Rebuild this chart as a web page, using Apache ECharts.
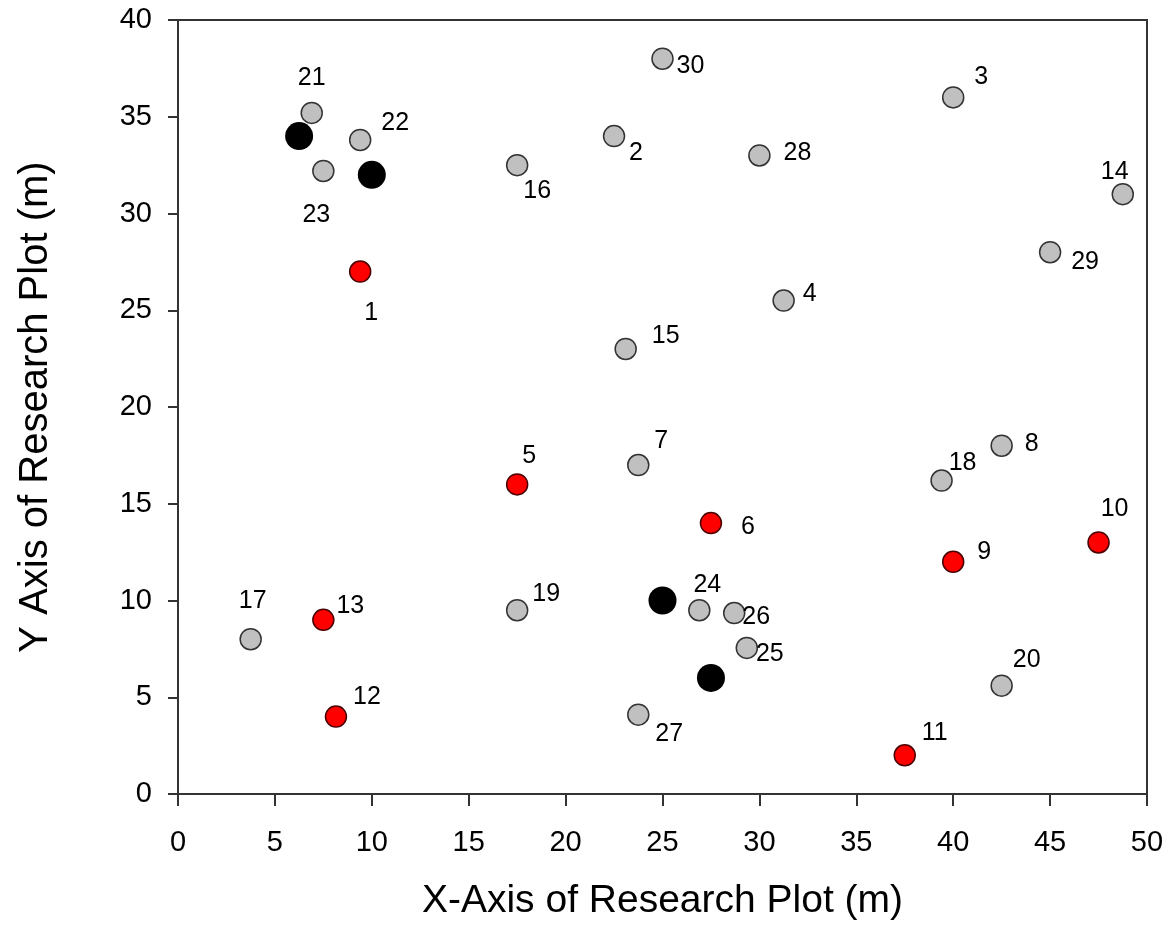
<!DOCTYPE html>
<html>
<head>
<meta charset="utf-8">
<script src="https://cdn.jsdelivr.net/npm/echarts@6/dist/echarts.min.js"></script>
<style>
  html, body { margin: 0; padding: 0; background: #fff; }
  #chart { width: 1174px; height: 926px; }
</style>
</head>
<body>
<div id="chart"></div>
<script>
// trees / plots in the research plot (m)
var grayIds = [2, 3, 4, 7, 8, 14, 15, 16, 17, 18, 19, 20, 21, 22, 23, 24, 25, 26, 27, 28, 29, 30]
var grayX = [22.5, 40, 31.25, 23.75, 42.5, 48.75, 23.1, 17.5, 3.75, 39.4, 17.5, 42.5, 6.9, 9.4, 7.5, 26.9, 29.35, 28.7, 23.75, 30, 45, 25]
var grayY = [34, 36, 25.5, 17, 18, 31, 23, 32.5, 8, 16.2, 9.5, 5.6, 35.2, 33.8, 32.2, 9.5, 7.55, 9.35, 4.1, 33, 28, 38]

var redIds = [1, 5, 6, 9, 10, 11, 12, 13]
var redX = [9.4, 17.5, 27.5, 40, 47.5, 37.5, 8.15, 7.5]
var redY = [27, 16, 14, 12, 13, 2, 4, 9]

var blackX = [6.25, 10, 25, 27.5]
var blackY = [34, 32, 10, 6]

var xTicks = [0, 5, 10, 15, 20, 25, 30, 35, 40, 45, 50]
var yTicks = [0, 5, 10, 15, 20, 25, 30, 35, 40]

// where each number label sits relative to its circle (px)
var labelShift = {
  1: [11, 42], 2: [22, 17], 3: [28, -20], 4: [26, -6], 5: [12, -28],
  6: [37, 4], 7: [23, -24], 8: [30, -2], 9: [31, -10], 10: [16, -33],
  11: [30, -22], 12: [31, -19], 13: [27, -14], 14: [-8, -22], 15: [40, -13],
  16: [20, 26], 17: [2, -38], 18: [21, -17], 19: [29, -16], 20: [25, -26],
  21: [0, -35], 22: [35, -17], 23: [-7, 44], 24: [8, -25], 25: [23, 6],
  26: [22, 4], 27: [31, 19], 28: [38, -2], 29: [35, 10], 30: [28, 7]
}

var FONT = 'Arial, "Liberation Sans", Helvetica, sans-serif'

function buildPoints (ids, xs, ys) {
  var out = []
  for (var i = 0; i < xs.length; i++) {
    var item = { value: [xs[i], ys[i]] }
    if (ids) {
      item.name = String(ids[i])
      item.label = {
        show: true,
        position: 'inside',
        offset: labelShift[ids[i]],
        formatter: String(ids[i]),
        color: '#000',
        fontSize: 25,
        fontFamily: FONT
      }
    }
    out.push(item)
  }
  return out
}

var chart = echarts.init(document.getElementById('chart'))
chart.setOption({
  animation: false,
  backgroundColor: '#fff',
  grid: {
    left: 178,
    right: 27,
    top: 20,
    bottom: 131,
    show: true,
    borderColor: '#333',
    borderWidth: 2,
    backgroundColor: 'transparent'
  },
  xAxis: {
    type: 'value',
    min: xTicks[0],
    max: xTicks[xTicks.length - 1],
    interval: 5,
    name: 'X-Axis of Research Plot (m)',
    nameLocation: 'middle',
    nameGap: 88,
    nameTextStyle: { fontSize: 39, color: '#000', fontFamily: FONT },
    axisLine: { show: true, lineStyle: { color: '#333', width: 2 } },
    axisTick: { show: true, inside: false, length: 12, lineStyle: { color: '#333', width: 2 } },
    axisLabel: { fontSize: 29, color: '#000', fontFamily: FONT, margin: 34 },
    splitLine: { show: false }
  },
  yAxis: {
    type: 'value',
    min: yTicks[0],
    max: yTicks[yTicks.length - 1],
    interval: 5,
    name: 'Y Axis of Research Plot (m)',
    nameLocation: 'middle',
    nameGap: 122,
    nameTextStyle: { fontSize: 40, color: '#000', fontFamily: FONT },
    axisLine: { show: true, lineStyle: { color: '#333', width: 2 } },
    axisTick: { show: true, inside: false, length: 10, lineStyle: { color: '#333', width: 2 } },
    axisLabel: { fontSize: 29, color: '#000', fontFamily: FONT, margin: 26 },
    splitLine: { show: false }
  },
  series: [
    {
      name: 'gray',
      type: 'scatter',
      symbolSize: 21,
      itemStyle: { color: '#c0c0c0', borderColor: '#333', borderWidth: 1.5, opacity: 1 },
      data: buildPoints(grayIds, grayX, grayY)
    },
    {
      name: 'red',
      type: 'scatter',
      symbolSize: 21,
      itemStyle: { color: '#ff0000', borderColor: '#4a0000', borderWidth: 1.5, opacity: 1 },
      data: buildPoints(redIds, redX, redY)
    },
    {
      name: 'black',
      type: 'scatter',
      symbolSize: 28,
      itemStyle: { color: '#000', opacity: 1 },
      data: buildPoints(null, blackX, blackY)
    }
  ]
})
</script>
</body>
</html>
